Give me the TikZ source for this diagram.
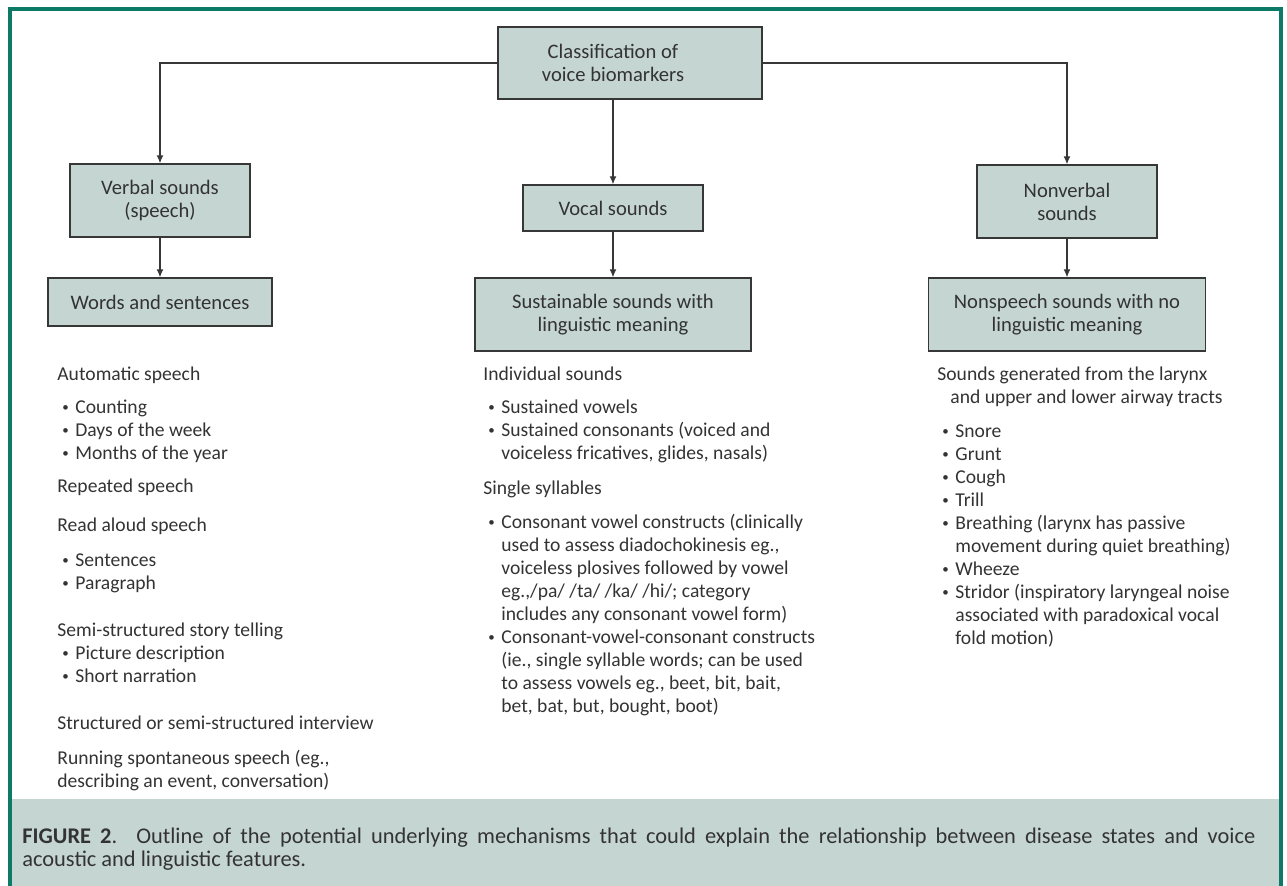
\documentclass[tikz,border=0pt]{standalone}
\usepackage{fontspec}
\setmainfont{Carlito}
\usetikzlibrary{arrows.meta,positioning}
\definecolor{framegreen}{RGB}{12,122,102}
\definecolor{boxfill}{RGB}{197,214,210}
\definecolor{inktext}{RGB}{51,51,51}
\definecolor{boxline}{RGB}{55,55,55}
\newcommand{\bl}{\makebox[9pt][l]{\hspace{2.5pt}\raisebox{0.2ex}{\fontsize{6.5}{6}\selectfont\textbullet}}}
\newcommand{\hg}{\hspace*{9pt}}
\tikzset{
    cat/.style ={rectangle, draw=boxline, fill=boxfill, line width=0.7pt, align=center, inner sep=0pt, text=inktext, font=\fontsize{10.3}{11.5}\selectfont},
    link/.style = {-{Latex[length=4pt,width=3.5pt]}, line width=0.6pt, draw=boxline},
    list/.style = {anchor=north west, align=left, inner sep=0pt, text=inktext, font=\fontsize{9.8}{11.5}\selectfont}
}

\begin{document}
\begin{tikzpicture}[x=0.5pt, y=-0.5pt]
    \useasboundingbox (0,0) rectangle (1287,886);

    % Frame and caption band
    \fill[boxfill] (10,799) rectangle (1281,886);
    \draw[framegreen, line width=1.6pt] (10,886) -- (10,9) -- (1281,9) -- (1281,886);

    % Nodes
    \node[cat, minimum width=132pt, minimum height=36pt] (top) at (630,63) {Classification of\hspace*{17pt}\\voice biomarkers\hspace*{17pt}};
    \node[cat, minimum width=90pt, minimum height=36.5pt] (verbal) at (160,200.5) {Verbal sounds\\(speech)};
    \node[cat, minimum width=90pt, minimum height=23pt] (vocal) at (613,208) {Vocal sounds};
    \node[cat, minimum width=90pt, minimum height=36.5pt] (nonverbal) at (1067,201.5) {Nonverbal\\sounds};
    \node[cat, minimum width=112pt, minimum height=24pt] (words) at (160,302) {Words and sentences};
    \node[cat, minimum width=138pt, minimum height=36.5pt] (sustain) at (613,314.5) {Sustainable sounds with\\linguistic meaning};
    \node[cat, minimum width=138.5pt, minimum height=36.5pt] (nonspeech) at (1067,314.5) {Nonspeech sounds with no\\linguistic meaning};

    % Edges with arrows
    \draw[link] (top.west) -| (verbal.north);
    \draw[link] (top.east) -| (nonverbal.north);
    \draw[link] (top.south -| vocal.north) -- (vocal.north);
    \draw[link] (verbal) -- (words);
    \draw[link] (vocal) -- (sustain);
    \draw[link] (nonverbal) -- (nonspeech);

    % Lists under the boxes
    \node[list] (speechlist) at (57,366) {Automatic speech\\[5pt]
        \bl Counting\\ \bl Days of the week\\ \bl Months of the year\\[5pt]
        Repeated speech\\[8pt]
        Read aloud speech\\[6pt]
        \bl Sentences\\ \bl Paragraph\\[12pt]
        Semi-structured story telling\\ \bl Picture description\\ \bl Short narration\\[12pt]
        Structured or semi-structured interview\\[6pt]
        Running spontaneous speech (eg.,\\ describing an event, conversation)};
    \node[list] (vocallist) at (483,366) {Individual sounds\\[5pt]
        \bl Sustained vowels\\ \bl Sustained consonants (voiced and\\ \hg voiceless fricatives, glides, nasals)\\[6pt]
        Single syllables\\[5.5pt]
        \bl Consonant vowel constructs (clinically\\ \hg used to assess diadochokinesis eg.,\\
        \hg voiceless plosives followed by vowel\\ \hg eg.,/pa/ /ta/ /ka/ /hi/; category\\
        \hg includes any consonant vowel form)\\
        \bl Consonant-vowel-consonant constructs\\ \hg (ie., single syllable words; can be used\\
        \hg to assess vowels eg., beet, bit, bait,\\ \hg bet, bat, but, bought, boot)};
    \node[list] (nonverballist) at (937,366) {Sounds generated from the larynx\\ \hspace*{6.5pt}and upper and lower airway tracts\\[5.5pt]
        \bl Snore\\ \bl Grunt\\ \bl Cough\\ \bl Trill\\
        \bl Breathing (larynx has passive\\ \hg movement during quiet breathing)\\
        \bl Wheeze\\
        \bl Stridor (inspiratory laryngeal noise\\ \hg associated with paradoxical vocal\\ \hg fold motion)};

    % Caption
    \node[anchor=north west, inner sep=0pt, text width=616.5pt, align=justify, text=inktext, font=\fontsize{11.2}{11.5}\selectfont] (caption) at (22,828)
        {\textbf{FIGURE 2}. Outline of the potential underlying mechanisms that could explain the relationship between disease states and voice\linebreak acoustic and linguistic features.};
\end{tikzpicture}
\end{document}
